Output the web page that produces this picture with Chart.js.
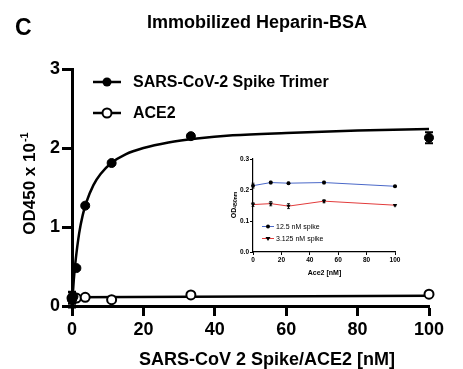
<!DOCTYPE html>
<html>
<head>
<meta charset="utf-8">
<script src="https://cdn.jsdelivr.net/npm/chart.js@4.4.1/dist/chart.umd.min.js"></script>
<style>
    html, body { margin: 0; padding: 0; background: #fff; }
    #wrap { position: relative; width: 463px; height: 369px; }
    #main { position: absolute; left: 0; top: 0; }
    #inset { position: absolute; left: 222px; top: 150px; }
</style>
</head>
<body>
<div id="wrap">
    <canvas id="main" width="463" height="369"></canvas>
    <canvas id="inset" width="185" height="135"></canvas>
</div>
<script>
// main panel values
const spikeX = [0, 0.14, 0.41, 1.23, 3.7, 11.1, 33.3, 100];
const spikeY = [0.08, 0.10, 0.12, 0.48, 1.27, 1.81, 2.15, 2.13];
const spikeErr = [0.10, 0.03, 0.03, 0.02, 0.02, 0.02, 0.02, 0.07];
const ace2X = [0, 0.41, 1.23, 3.7, 11.1, 33.3, 100];
const ace2Y = [0.10, 0.09, 0.10, 0.11, 0.08, 0.14, 0.15];
const ace2Err = [0.07, 0.02, 0.02, 0.01, 0.01, 0.01, 0.01];
const fitX = [0, 0.5, 1, 2, 3, 4, 6, 8, 11, 15, 20, 27, 35, 45, 60, 80, 100];
const fitY = [0, 0.33, 0.57, 0.92, 1.15, 1.31, 1.53, 1.67, 1.81, 1.92, 2.0, 2.07, 2.12, 2.16, 2.19, 2.22, 2.24];
const ace2FitX = [0, 100];
const ace2FitY = [0.11, 0.13];
const xTicks = [0, 20, 40, 60, 80, 100];
const yTicks = [0, 1, 2, 3];

// inset values
const insetX = [0, 12.5, 25, 50, 100];
const spike125Y = [0.214, 0.224, 0.222, 0.224, 0.212];
const spike125Err = [0.008, 0.004, 0.003, 0.004, 0.002];
const spike3125Y = [0.153, 0.156, 0.148, 0.164, 0.151];
const spike3125Err = [0.006, 0.007, 0.008, 0.005, 0.002];
const insetXTicks = [0, 20, 40, 60, 80, 100];
const insetYTicks = [0, 0.1, 0.2, 0.3];

const FONT = "'Liberation Sans', Arial, sans-serif";

function pts(xs, ys) {
    return xs.map((x, i) => ({ x: x, y: ys[i] }));
}

const errorBars = {
    id: 'errorBars',
    beforeDatasetsDraw(chart) {
        const ctx = chart.ctx;
        const yScale = chart.scales.y;
        chart.data.datasets.forEach((ds, i) => {
            if (!ds.errors) return;
            const meta = chart.getDatasetMeta(i);
            ctx.save();
            ctx.strokeStyle = ds.errColor || '#000';
            ctx.lineWidth = ds.errWidth || 2;
            meta.data.forEach((p, j) => {
                const v = ds.data[j].y, e = ds.errors[j];
                const y1 = yScale.getPixelForValue(v + e);
                const y2 = yScale.getPixelForValue(v - e);
                const cap = ds.capWidth || 4;
                ctx.beginPath();
                ctx.moveTo(p.x, y1); ctx.lineTo(p.x, y2);
                ctx.moveTo(p.x - cap, y1); ctx.lineTo(p.x + cap, y1);
                ctx.moveTo(p.x - cap, y2); ctx.lineTo(p.x + cap, y2);
                ctx.stroke();
            });
            ctx.restore();
        });
    }
};

const mainText = {
    id: 'mainText',
    afterDraw(chart) {
        const ctx = chart.ctx;
        ctx.save();
        ctx.fillStyle = '#000';
        ctx.textBaseline = 'alphabetic';

        ctx.font = 'bold 23px ' + FONT;
        ctx.textAlign = 'left';
        ctx.fillText('C', 15, 35);

        ctx.font = 'bold 18px ' + FONT;
        ctx.textAlign = 'center';
        ctx.fillText('Immobilized Heparin-BSA', 257, 28);
        ctx.fillText('SARS-CoV 2 Spike/ACE2 [nM]', 267, 365);

        // y title with superscript
        ctx.save();
        ctx.translate(35, 184);
        ctx.rotate(-Math.PI / 2);
        ctx.font = 'bold 17px ' + FONT;
        const mainPart = 'OD450 x 10';
        const w1 = ctx.measureText(mainPart).width;
        ctx.font = 'bold 11px ' + FONT;
        const w2 = ctx.measureText('-1').width;
        const start = -(w1 + w2) / 2;
        ctx.textAlign = 'left';
        ctx.font = 'bold 17px ' + FONT;
        ctx.fillText(mainPart, start, 0);
        ctx.font = 'bold 11px ' + FONT;
        ctx.fillText('-1', start + w1 + 1, -7);
        ctx.restore();

        // legend
        ctx.strokeStyle = '#000';
        ctx.lineWidth = 2.5;
        ctx.beginPath();
        ctx.moveTo(93, 82); ctx.lineTo(121, 82);
        ctx.moveTo(93, 113); ctx.lineTo(121, 113);
        ctx.stroke();
        ctx.beginPath();
        ctx.arc(107, 82, 4.5, 0, Math.PI * 2);
        ctx.fill();
        ctx.beginPath();
        ctx.arc(107, 113, 4.5, 0, Math.PI * 2);
        ctx.fillStyle = '#fff';
        ctx.fill();
        ctx.lineWidth = 2;
        ctx.stroke();
        ctx.fillStyle = '#000';
        ctx.font = 'bold 16px ' + FONT;
        ctx.textAlign = 'left';
        ctx.textBaseline = 'middle';
        ctx.fillText('SARS-CoV-2 Spike Trimer', 133, 83);
        ctx.fillText('ACE2', 133, 114);
        ctx.restore();
    }
};

const insetText = {
    id: 'insetText',
    afterDraw(chart) {
        const ctx = chart.ctx;
        ctx.save();
        ctx.fillStyle = '#000';
        ctx.textBaseline = 'middle';
        ctx.textAlign = 'center';
        ctx.font = 'bold 7px ' + FONT;
        ctx.fillText('Ace2 [nM]', 102.5, 123);

        ctx.save();
        ctx.translate(12, 55);
        ctx.rotate(-Math.PI / 2);
        ctx.textAlign = 'left';
        ctx.font = 'bold 7px ' + FONT;
        const w1 = ctx.measureText('OD').width;
        ctx.font = 'bold 5px ' + FONT;
        const w2 = ctx.measureText('450nm').width;
        const s = -(w1 + w2) / 2;
        ctx.font = 'bold 7px ' + FONT;
        ctx.fillText('OD', s, 0);
        ctx.font = 'bold 5px ' + FONT;
        ctx.fillText('450nm', s + w1, 2);
        ctx.restore();

        // legend
        ctx.lineWidth = 1;
        ctx.strokeStyle = '#4a68c8';
        ctx.beginPath(); ctx.moveTo(40, 76.5); ctx.lineTo(52, 76.5); ctx.stroke();
        ctx.strokeStyle = '#e23b3b';
        ctx.beginPath(); ctx.moveTo(40, 88.5); ctx.lineTo(52, 88.5); ctx.stroke();
        ctx.beginPath(); ctx.arc(46, 76.5, 2, 0, Math.PI * 2); ctx.fill();
        ctx.beginPath();
        ctx.moveTo(43.5, 87); ctx.lineTo(48.5, 87); ctx.lineTo(46, 91);
        ctx.closePath(); ctx.fill();
        ctx.textAlign = 'left';
        ctx.font = '7px ' + FONT;
        ctx.fillText('12.5 nM spike', 54, 77);
        ctx.fillText('3.125 nM spike', 54, 89);
        ctx.restore();
    }
};

function createMainChart() {
    const ctx = document.getElementById('main').getContext('2d');
    new Chart(ctx, {
        type: 'scatter',
        data: {
            datasets: [{
                label: 'SARS-CoV-2 Spike Trimer',
                data: pts(spikeX, spikeY),
                errors: spikeErr,
                capWidth: 4,
                pointRadius: 4.5,
                pointBackgroundColor: '#000',
                pointBorderColor: '#000',
                pointBorderWidth: 1,
                showLine: false,
                clip: false,
                order: 1
            }, {
                label: 'ACE2',
                data: pts(ace2X, ace2Y),
                errors: ace2Err,
                capWidth: 4,
                pointRadius: 4.5,
                pointBackgroundColor: '#fff',
                pointBorderColor: '#000',
                pointBorderWidth: 2,
                showLine: false,
                clip: false,
                order: 2
            }, {
                label: 'fit',
                data: pts(fitX, fitY),
                showLine: true,
                borderColor: '#000',
                borderWidth: 2.5,
                pointRadius: 0,
                cubicInterpolationMode: 'monotone',
                clip: false,
                order: 3
            }, {
                label: 'ace2 fit',
                data: pts(ace2FitX, ace2FitY),
                showLine: true,
                borderColor: '#000',
                borderWidth: 2.5,
                pointRadius: 0,
                clip: false,
                order: 4
            }]
        },
        options: {
            responsive: false,
            animation: false,
            layout: { padding: { left: 0, top: 69, right: 34, bottom: 0 } },
            plugins: { legend: { display: false }, tooltip: { enabled: false } },
            scales: {
                x: {
                    type: 'linear', min: 0, max: 100,
                    afterFit: s => { s.height = 63; },
                    afterBuildTicks: s => { s.ticks = xTicks.map(v => ({ value: v })); },
                    grid: { drawOnChartArea: false, drawTicks: true, tickLength: 10, tickWidth: 3, tickColor: '#000' },
                    border: { display: true, color: '#000', width: 3 },
                    ticks: { color: '#000', padding: 3, maxRotation: 0, font: { family: FONT, size: 18, weight: 'bold' } }
                },
                y: {
                    type: 'linear', min: 0, max: 3,
                    afterFit: s => { s.width = 72; },
                    afterBuildTicks: s => { s.ticks = yTicks.map(v => ({ value: v })); },
                    grid: { drawOnChartArea: false, drawTicks: true, tickLength: 10, tickWidth: 3, tickColor: '#000' },
                    border: { display: true, color: '#000', width: 3 },
                    ticks: { color: '#000', padding: 2, font: { family: FONT, size: 18, weight: 'bold' } }
                }
            }
        },
        plugins: [errorBars, mainText]
    });
}

function createInsetChart() {
    const ctx = document.getElementById('inset').getContext('2d');
    new Chart(ctx, {
        type: 'scatter',
        data: {
            datasets: [{
                label: '12.5 nM spike',
                data: pts(insetX, spike125Y),
                errors: spike125Err,
                errWidth: 0.8,
                capWidth: 1.5,
                showLine: true,
                borderColor: '#4a68c8',
                borderWidth: 1,
                pointRadius: 2,
                pointBackgroundColor: '#000',
                pointBorderColor: '#000',
                pointBorderWidth: 0,
                clip: false
            }, {
                label: '3.125 nM spike',
                data: pts(insetX, spike3125Y),
                errors: spike3125Err,
                errWidth: 0.8,
                capWidth: 1.5,
                showLine: true,
                borderColor: '#e23b3b',
                borderWidth: 1,
                pointStyle: 'triangle',
                rotation: 180,
                pointRadius: 2.5,
                pointBackgroundColor: '#000',
                pointBorderColor: '#000',
                pointBorderWidth: 0,
                clip: false
            }]
        },
        options: {
            responsive: false,
            animation: false,
            layout: { padding: { left: 0, top: 9, right: 12, bottom: 0 } },
            plugins: { legend: { display: false }, tooltip: { enabled: false } },
            scales: {
                x: {
                    type: 'linear', min: 0, max: 100,
                    afterFit: s => { s.height = 33; },
                    afterBuildTicks: s => { s.ticks = insetXTicks.map(v => ({ value: v })); },
                    grid: { drawOnChartArea: false, drawTicks: true, tickLength: 3, tickWidth: 1, tickColor: '#000' },
                    border: { display: true, color: '#000', width: 1.2 },
                    ticks: { color: '#000', padding: 1, maxRotation: 0, font: { family: FONT, size: 6.5, weight: 'bold' } }
                },
                y: {
                    type: 'linear', min: 0, max: 0.3,
                    afterFit: s => { s.width = 31; },
                    afterBuildTicks: s => { s.ticks = insetYTicks.map(v => ({ value: v })); },
                    grid: { drawOnChartArea: false, drawTicks: true, tickLength: 3, tickWidth: 1, tickColor: '#000' },
                    border: { display: true, color: '#000', width: 1.2 },
                    ticks: {
                        color: '#000', padding: 1,
                        font: { family: FONT, size: 6.5, weight: 'bold' },
                        callback: v => v.toFixed(1)
                    }
                }
            }
        },
        plugins: [errorBars, insetText]
    });
}

createMainChart();
createInsetChart();
</script>
</body>
</html>
